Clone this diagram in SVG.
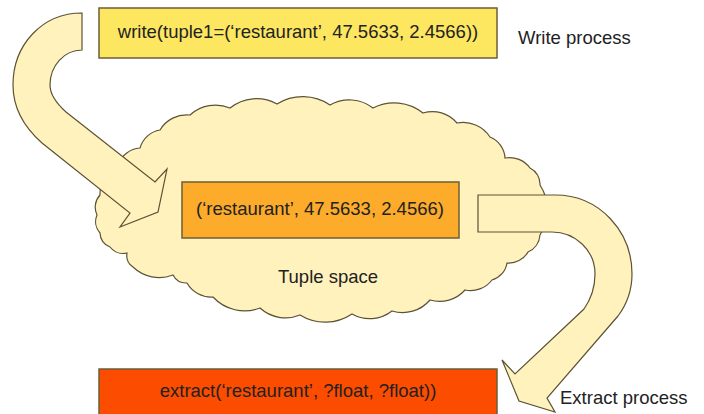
<svg xmlns="http://www.w3.org/2000/svg" width="704" height="414" viewBox="0 0 704 414">
<style>
.t{font-family:"Liberation Sans",Arial,sans-serif;font-size:18.5px;fill:#222}
.box{stroke:#6e5e38;stroke-width:1.5}
.fat{fill:#fff2bd;stroke:#5c5234;stroke-width:1.2;stroke-linejoin:miter}
</style>
<rect width="704" height="414" fill="#ffffff"/>
<g id="tuple-space">
<path class="fat" d="M100,195 A32,32 0 0 1 118,165 A25,25 0 0 1 140,148 A25,25 0 0 1 160,130 A31,31 0 0 1 190,115 A38,38 0 0 1 230,108 A42,42 0 0 1 277,104 A49,49 0 0 1 330,105 A39,39 0 0 1 373,108 A46,46 0 0 1 423,113 A32,32 0 0 1 457,123 A32,32 0 0 1 490,137 A24,24 0 0 1 505,158 A25,25 0 0 1 530,168 A18,18 0 0 1 540,185 A46,46 0 0 1 540,235 A20,20 0 0 1 528,252 A22,22 0 0 1 507,263 A21,21 0 0 1 492,280 A27,27 0 0 1 465,290 A34,34 0 0 1 430,300 A36,36 0 0 1 392,311 A36,36 0 0 1 352,314 A48,48 0 0 1 300,315 A38,38 0 0 1 260,308 A43,43 0 0 1 213,297 A28,28 0 0 1 187,283 A15,15 0 0 1 173,275 A38,38 0 0 1 133,267 A14,14 0 0 1 127,253 A17,17 0 0 1 110,247 A15,15 0 0 1 100,233 A17,17 0 0 1 97,215 A18,18 0 0 1 100,195 Z"/>
<text class="t" x="328" y="283" text-anchor="middle">Tuple space</text>
</g>
<g id="connectors">
<path id="write-arrow" class="fat" d="M82,13 C42,13 13,45 13,85 C13,108 25,128 42,143 L130,213 L120,227 L158,212 L167,169 L155,182 L66,112 C56,103 50,95 50,85 C50,66 64,50 82,50 Z"/>
<path id="extract-arrow" class="fat" d="M478,195 L555,195 C600,195 632,232 632,274 C632,290 627,304 618,316 L547,398 L555,412 L519,401 L502,360 L515,374 L584,309 C591,299 595,287 595,274 C595,250 575,232 552,232 L478,232 Z"/>
</g>
<g id="write-node">
<rect class="box" x="99" y="8" width="398" height="50" fill="#fde761"/>
<text class="t" x="298" y="38" text-anchor="middle">write(tuple1=(‘restaurant’, 47.5633, 2.4566))</text>
</g>
<g id="tuple-node">
<rect class="box" x="182" y="182" width="277" height="56" fill="#fcab2a"/>
<text class="t" x="320" y="215" text-anchor="middle">(‘restaurant’, 47.5633, 2.4566)</text>
</g>
<g id="extract-node">
<rect class="box" x="99" y="369" width="398" height="60" fill="#fb4c00"/>
<text class="t" x="298" y="397" text-anchor="middle">extract(‘restaurant’, ?float, ?float))</text>
</g>
<g id="labels">
<text class="t" x="518" y="44">Write process</text>
<text class="t" x="560" y="404">Extract process</text>
</g>
</svg>
